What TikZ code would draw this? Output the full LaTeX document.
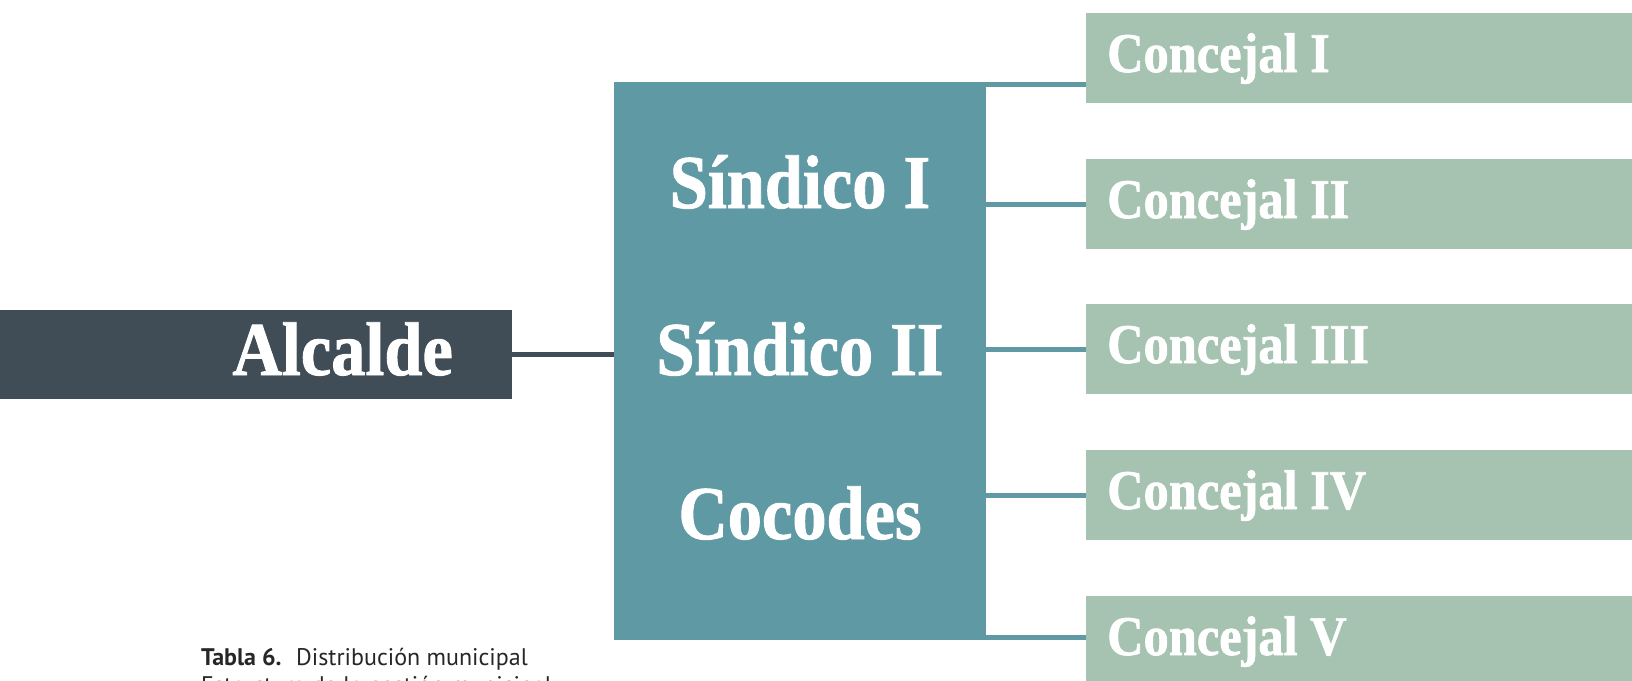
\documentclass[tikz,border=0pt]{standalone}
\usepackage{fontspec}
\newfontfamily\hfont{Liberation Serif}[FakeStretch=0.9,FakeBold=1.2]
\newfontfamily\capfont{PT Sans}
\definecolor{darkbox}{HTML}{404D57}
\definecolor{tealbox}{HTML}{5F9AA4}
\definecolor{greenbox}{HTML}{A5C3B0}
\begin{document}
\begin{tikzpicture}[x=1pt,y=-1pt,
  box/.style={anchor=north west, inner sep=0pt, outer sep=0pt, draw=none},
  conn/.style={line width=5pt, draw=tealbox},
  bigtxt/.style={text=white, inner sep=0pt, font=\hfont\bfseries\fontsize{76}{80}\selectfont},
  ctxt/.style={text=white, inner sep=0pt, anchor=base west, font=\hfont\bfseries\fontsize{56}{60}\selectfont},
  captxt/.style={inner sep=0pt, anchor=base west, text=black!85, font=\capfont\fontsize{24}{28}\selectfont}]
\useasboundingbox (0,0) rectangle (1632,680);
% coordinates for connector ends
\coordinate (k1) at (986,84.5);
\coordinate (k5) at (986,637);
% boxes
\node[box, fill=darkbox, minimum width=512pt, minimum height=89pt] (alc) at (0,310) {};
\node[box, fill=tealbox, minimum width=372pt, minimum height=558pt] (sind) at (614,82) {};
\node[box, fill=greenbox, minimum width=560pt, minimum height=90pt] (c1) at (1086,13) {};
\node[box, fill=greenbox, minimum width=560pt, minimum height=90pt] (c2) at (1086,159) {};
\node[box, fill=greenbox, minimum width=560pt, minimum height=90pt] (c3) at (1086,304) {};
\node[box, fill=greenbox, minimum width=560pt, minimum height=90pt] (c4) at (1086,450) {};
\node[box, fill=greenbox, minimum width=560pt, minimum height=90pt] (c5) at (1086,596) {};
% connectors
\draw[conn, draw=darkbox] (alc.east) -- (alc.east -| sind.west);
\draw[conn] (k1) -- (k1 -| c1.west);
\draw[conn] (sind.east |- c2.west) -- (c2.west);
\draw[conn] (sind.east |- c3.west) -- (c3.west);
\draw[conn] (sind.east |- c4.west) -- (c4.west);
\draw[conn] (k5) -- (k5 -| c5.west);
% texts
\node[bigtxt, anchor=base east] (talc) at (453,375) {Alcalde};
\node[bigtxt, anchor=base] (ts1) at (800,208) {Síndico I};
\node[bigtxt, anchor=base] (ts2) at (800,375) {Síndico II};
\node[bigtxt, anchor=base] (tcoc) at (800,539) {Cocodes};
\node[ctxt] (tc1) at (1107,72) {Concejal I};
\node[ctxt] (tc2) at (1107,218) {Concejal II};
\node[ctxt] (tc3) at (1107,363) {Concejal III};
\node[ctxt] (tc4) at (1107,509) {Concejal IV};
\node[ctxt] (tc5) at (1107,655) {Concejal V};
\node[captxt] (cap1) at (201,665) {\textbf{Tabla 6.}\hspace{0.25em} Distribución municipal};
\node[captxt] (cap2) at (201,693) {Estructura de la gestión municipal};
\end{tikzpicture}
\end{document}
